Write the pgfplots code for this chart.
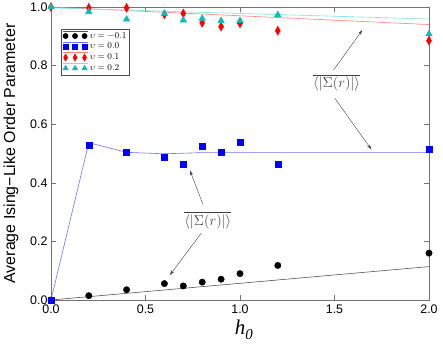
\documentclass[border=0pt]{standalone}
\usepackage{fontspec}
\setmainfont{Liberation Sans}
\newfontfamily\timesf{Liberation Serif}
\usepackage{pgfplots}
\pgfplotsset{compat=1.18}
\usetikzlibrary{arrows.meta}
\definecolor{lgray}{HTML}{555555}
\definecolor{lblue}{HTML}{7070FF}
\definecolor{lred}{HTML}{FF7F7F}
\definecolor{lcyan}{HTML}{7FE0E0}
\definecolor{mteal}{HTML}{10B8B8}
\begin{document}
\begin{tikzpicture}
\begin{axis}[
  at={(0,0)}, anchor=south west,
  scale only axis, width=378bp, height=293bp,
  xmin=0, xmax=2, ymin=0, ymax=1,
  xtick={0,0.5,1,1.5,2}, ytick={0,0.2,0.4,0.6,0.8,1},
  tick align=inside, major tick length=5bp,
  tick style={black!55, line width=0.5pt},
  axis line style={black!55, line width=0.6pt},
  /pgf/number format/assume math mode=true,
  /pgf/number format/.cd, fixed, fixed zerofill, precision=1, /pgfplots/.cd,
  ticklabel style={font=\fontsize{12.5}{12.5}\selectfont},
  xticklabel style={yshift=-1bp},
  every axis y label/.style={at={(axis description cs:-0.106,0.5)}, rotate=90, anchor=center},
  every axis x label/.style={at={(axis description cs:0.51,-0.102)}, anchor=center},
  ylabel={\fontsize{16}{16}\selectfont Average Ising−Like Order Parameter},
  xlabel={\fontsize{21}{21}\selectfont\timesf\itshape h\raisebox{-0.22em}{\fontsize{15}{15}\selectfont 0}},
  legend style={at={(rel axis cs:0.026,0.925)}, anchor=north west, draw=black!70,
    font=\fontsize{9}{9}\selectfont, inner sep=1.2bp, row sep=-0.5bp, line width=0.5pt},
  legend cell align=left,
]
% markers
\addplot[only marks, mark=*, mark size=3.2bp, black,
  legend image code/.code={\draw[lgray, mark=none, line width=0.6pt] (0bp,5bp) -- (25bp,5bp);
    \draw[only marks, mark size=2.6bp] plot coordinates {(3bp,0bp) (12.5bp,0bp) (22bp,0bp)};}]
 coordinates {(0,0) (0.2,0.0147) (0.4,0.035) (0.6,0.056) (0.7,0.048) (0.8,0.061) (0.9,0.071) (1.0,0.090) (1.2,0.118) (2.0,0.160)};
\addlegendentry{$\upsilon=-0.1$}
\addplot[only marks, mark=square*, mark size=3bp, blue,
  legend image code/.code={\draw[lblue, mark=none, line width=0.6pt] (0bp,5bp) -- (25bp,5bp);
    \draw[only marks, mark size=2.5bp] plot coordinates {(3bp,0bp) (12.5bp,0bp) (22bp,0bp)};}]
 coordinates {(0,0) (0.2,0.527) (0.4,0.506) (0.6,0.487) (0.7,0.465) (0.8,0.526) (0.9,0.506) (1.0,0.538) (1.2,0.462) (2.0,0.514)};
\addlegendentry{$\upsilon=0.0$}
\addplot[only marks, mark=diamond*, mark size=4.5bp, mark options={xscale=0.75}, red,
  legend image code/.code={\draw[lred, mark=none, line width=0.6pt] (0bp,5bp) -- (25bp,5bp);
    \draw[only marks, mark size=3.6bp] plot coordinates {(3bp,0bp) (12.5bp,0bp) (22bp,0bp)};}]
 coordinates {(0,1.0) (0.2,0.997) (0.4,0.997) (0.6,0.975) (0.7,0.978) (0.8,0.946) (0.9,0.933) (1.0,0.944) (1.2,0.919) (2.0,0.885)};
\addlegendentry{$\upsilon=0.1$}
\addplot[only marks, mark=triangle*, mark size=3.8bp, mteal,
  legend image code/.code={\draw[lcyan, mark=none, line width=0.6pt] (0bp,5bp) -- (25bp,5bp);
    \draw[only marks, mark size=3bp] plot coordinates {(3bp,0bp) (12.5bp,0bp) (22bp,0bp)};}]
 coordinates {(0,1.0) (0.2,0.984) (0.4,0.958) (0.6,0.978) (0.7,0.955) (0.8,0.961) (0.9,0.953) (1.0,0.953) (1.2,0.973) (2.0,0.908)};
\addlegendentry{$\upsilon=0.2$}
% lines
\addplot[forget plot, lgray, line width=0.6pt, mark=none] coordinates {(0,0) (2,0.114)};
\addplot[forget plot, lblue, line width=0.6pt, mark=none] coordinates {(0,0) (0.2,0.537) (0.4,0.504) (0.6,0.499) (0.8,0.503) (1.0,0.503) (2.0,0.503)};
\addplot[forget plot, lred, line width=0.6pt, mark=none] coordinates {(0,1.0) (2,0.94)};
\addplot[forget plot, lcyan, line width=0.6pt, mark=none] coordinates {(0,0.997) (2,0.959)};
% annotations
\node[black!75, font=\fontsize{15}{15}\selectfont] at (axis cs:1.511,0.741) {$\overline{\langle|\Sigma(r)|\rangle}$};
\draw[black!75, line width=0.4pt, -{Stealth[length=5bp,width=3bp]}] (axis cs:1.495,0.785) -- (axis cs:1.647,0.921);
\draw[black!75, line width=0.4pt, -{Stealth[length=5bp,width=3bp]}] (axis cs:1.501,0.689) -- (axis cs:1.695,0.514);
\node[black!75, font=\fontsize{15}{15}\selectfont] at (axis cs:0.830,0.273) {$\overline{\langle|\bar{\Sigma}(r)|\rangle}$};
\draw[black!75, line width=0.4pt, -{Stealth[length=5bp,width=3bp]}] (axis cs:0.803,0.328) -- (axis cs:0.735,0.442);
\draw[black!75, line width=0.4pt, -{Stealth[length=5bp,width=3bp]}] (axis cs:0.796,0.229) -- (axis cs:0.629,0.085);
\end{axis}
\pgfresetboundingbox
\path[use as bounding box] (-51bp,-45bp) rectangle (392bp,300bp);
\end{tikzpicture}
\end{document}
